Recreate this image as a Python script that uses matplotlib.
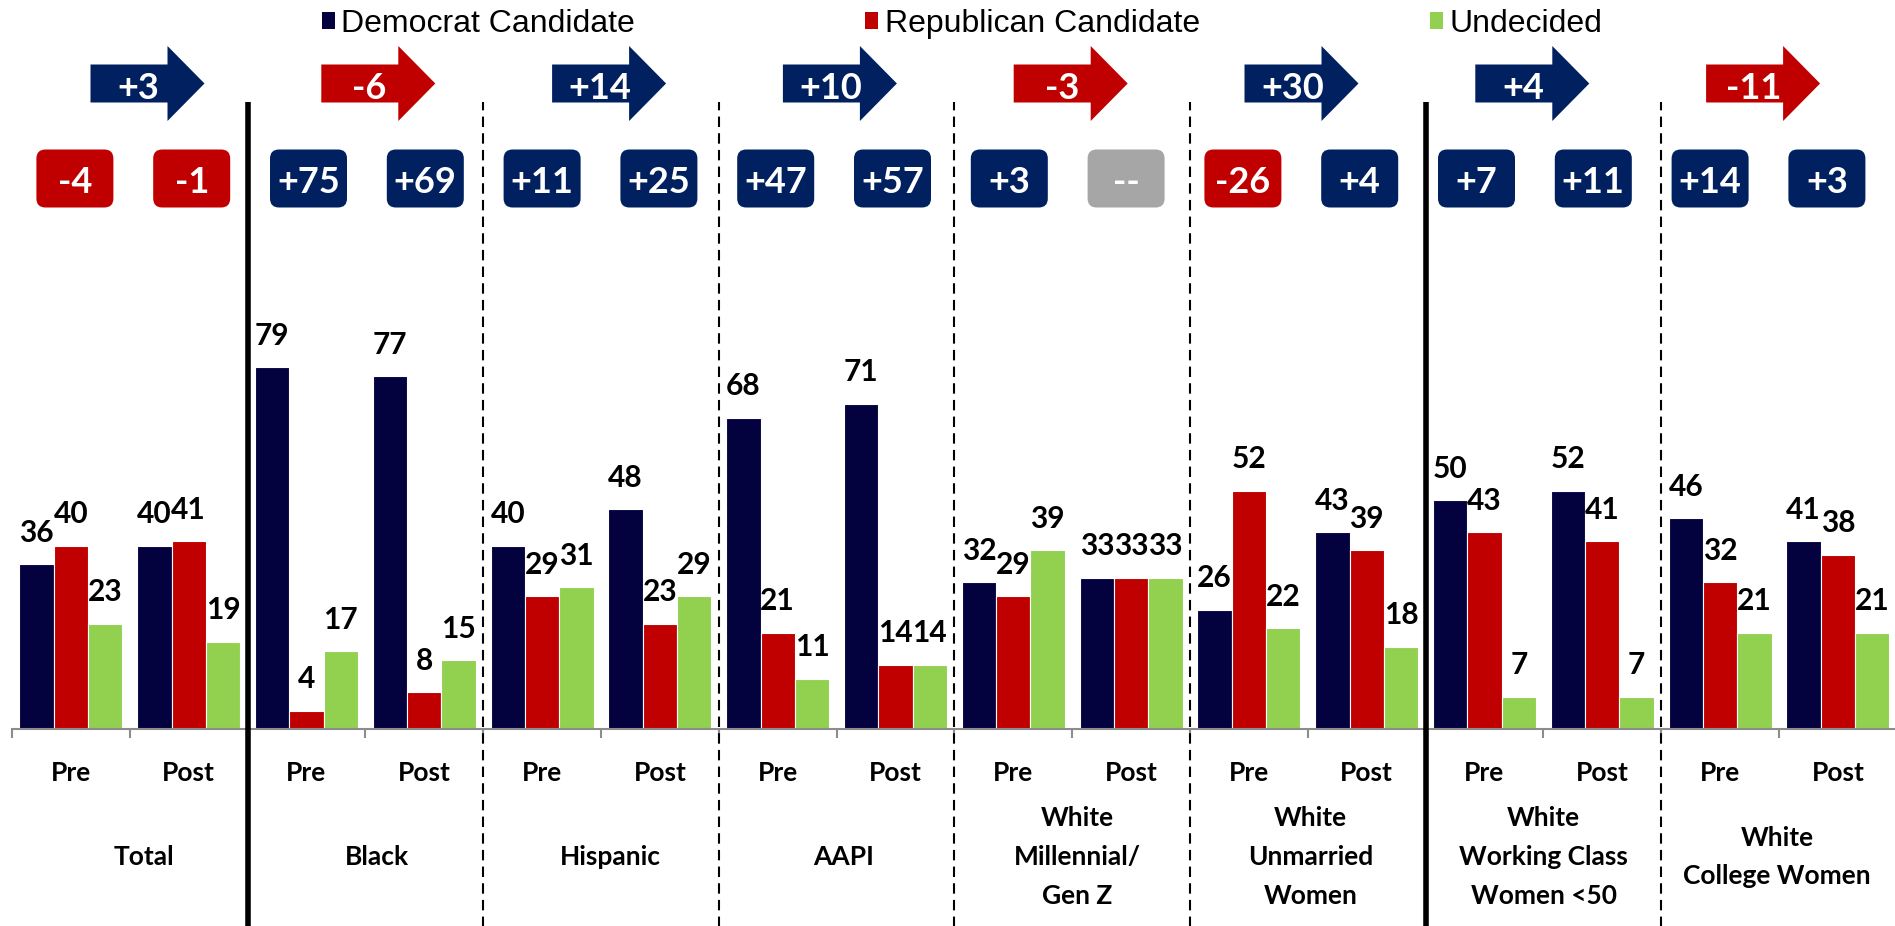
import matplotlib
matplotlib.use("Agg")
import matplotlib.pyplot as plt
from matplotlib.patches import Polygon, FancyBboxPatch, Patch
import numpy as np

# ---------------- data ----------------
categories = ["Total", "Black", "Hispanic", "AAPI",
              "White\nMillennial/\nGen Z", "White\nUnmarried\nWomen",
              "White\nWorking Class\nWomen <50", "White\nCollege Women"]
periods = ["Pre", "Post"]
series_names = ["Democrat Candidate", "Republican Candidate", "Undecided"]
dem_pre = [36, 79, 40, 68, 32, 26, 50, 46]
dem_post = [40, 77, 48, 71, 33, 43, 52, 41]
rep_pre = [40, 4, 29, 21, 29, 52, 43, 32]
rep_post = [41, 8, 23, 14, 33, 39, 41, 38]
und_pre = [23, 17, 31, 11, 39, 22, 7, 21]
und_post = [19, 15, 29, 14, 33, 18, 7, 21]
margin_pre = ["-4", "+75", "+11", "+47", "+3", "-26", "+7", "+14"]
margin_post = ["-1", "+69", "+25", "+57", "--", "+4", "+11", "+3"]
shift = ["+3", "-6", "+14", "+10", "-3", "+30", "+4", "-11"]

# ---------------- style ----------------
C_DEM = "#03023F"
C_REP = "#C00000"
C_UND = "#92D050"
C_NAVY = "#002060"
C_GREY = "#A6A6A6"
FONT = ["Lato", "DejaVu Sans"]
LEG_FONT = ["Liberation Sans", "DejaVu Sans"]

W, H = 1895, 926
PX_X = 117.8   # pixels per Pre/Post group
PX_Y = 4.58    # pixels per percentage point
AX_Y0 = 729    # pixel row of the baseline (from top)

fig = plt.figure(figsize=(W / 100, H / 100), dpi=100)
fig.patch.set_facecolor("white")
ax = fig.add_axes([12 / W, (H - AX_Y0) / H, 16 * PX_X / W, AX_Y0 / H])
ax.set_xlim(-0.5, 15.5)
ax.set_ylim(0, AX_Y0 / PX_Y)


def ypx(p):
    """pixel row (from top) -> data y"""
    return (AX_Y0 - p) / PX_Y


# ---------------- bars ----------------
bw = 34.3 / PX_X
series = [(dem_pre, dem_post, C_DEM), (rep_pre, rep_post, C_REP), (und_pre, und_post, C_UND)]
n = len(categories)
for s, (pre, post, col) in enumerate(series):
    xs, vals = [], []
    for i in range(n):
        xs += [2 * i + (s - 1) * bw, 2 * i + 1 + (s - 1) * bw]
        vals += [pre[i], post[i]]
    ax.bar(xs, vals, width=bw, color=col, edgecolor="white", linewidth=0.8, zorder=2)
    for x, v in zip(xs, vals):
        ax.annotate(str(v), (x, v), xytext=(0, 16.2), textcoords="offset points",
                    ha="center", va="baseline", fontsize=21.5, fontweight="bold",
                    family=FONT, color="black", zorder=5)

# ---------------- axis ----------------
for sp in ["top", "left", "right"]:
    ax.spines[sp].set_visible(False)
ax.spines["bottom"].set_color("#8C8C8C")
ax.spines["bottom"].set_linewidth(1.5)
ax.set_yticks([])
ax.set_xticks(np.arange(-0.5, 16, 1))
ax.set_xticklabels([])
ax.tick_params(axis="x", length=6.5, width=1.5, color="#8C8C8C", direction="out")
ax.set_facecolor("none")

# Pre / Post labels
for g in range(2 * n):
    ax.text(g, ypx(781), periods[g % 2], ha="center", va="baseline", fontsize=19,
            fontweight="bold", family=FONT, clip_on=False)

# category labels
for i, cat in enumerate(categories):
    off = (14 - 2.3 * i) / PX_X
    ax.text(2 * i + 0.5 + off, ypx(857), cat, ha="center", va="center", fontsize=19,
            fontweight="bold", family=FONT, linespacing=1.75, clip_on=False)

# separators
y_top, y_bot = ypx(102), ypx(930)
for xb in [1.5, 11.5]:
    ax.plot([xb, xb], [y_bot, y_top], color="black", lw=4, clip_on=False, zorder=4,
            solid_capstyle="butt")
for xb in [3.5, 5.5, 7.5, 9.5, 13.5]:
    ax.plot([xb, xb], [y_bot, y_top], color="black", lw=1.5, ls=(0, (5, 3)),
            clip_on=False, zorder=4)

# ---------------- margin boxes ----------------
bwid, bhei = 77 / PX_X, 58 / PX_Y
for i in range(n):
    for k, lab in enumerate([margin_pre[i], margin_post[i]]):
        j = 2 * i + k
        bx = j + (4 - 1.0 * j) / PX_X
        by = ypx(178.5)
        if lab.startswith("-") and lab != "--":
            col = C_REP
        elif lab == "--":
            col = C_GREY
        else:
            col = C_NAVY
        box = FancyBboxPatch((bx - bwid / 2, by - bhei / 2), bwid, bhei,
                             boxstyle=f"round,pad=0,rounding_size={9 / PX_X}",
                             mutation_aspect=PX_X / PX_Y, facecolor=col,
                             edgecolor="none", clip_on=False, zorder=3)
        ax.add_patch(box)
        ax.text(bx, ypx(192.7), lab, ha="center", va="baseline", fontsize=26,
                fontweight="bold", family=FONT, color="white", clip_on=False, zorder=4)

# ---------------- shift arrows ----------------
arrow_shape = [(-57, -19), (20, -19), (20, -37.5), (57, 0), (20, 37.5), (20, 19), (-57, 19)]
for i, lab in enumerate(shift):
    cx = 2 * i + 0.5 + (17.7 - 4.8 * i) / PX_X
    cy = ypx(83.5)
    col = C_REP if lab.startswith("-") else C_NAVY
    verts = [(cx + dx / PX_X, cy + dy / PX_Y) for dx, dy in arrow_shape]
    ax.add_patch(Polygon(verts, closed=True, facecolor=col, edgecolor="none",
                         clip_on=False, zorder=3))
    ax.text(cx - 9 / PX_X, ypx(99), lab, ha="center", va="baseline", fontsize=26,
            fontweight="bold", family=FONT, color="white", clip_on=False, zorder=4)

# ---------------- legend ----------------
handles = [Patch(facecolor=c, edgecolor="none") for c in (C_DEM, C_REP, C_UND)]
fig.legend(handles, series_names, loc="center", bbox_to_anchor=(962 / W, 1 - 24 / H),
           ncol=3, frameon=False, prop={"family": LEG_FONT, "size": 23},
           handlelength=0.41, handleheight=0.41, handletextpad=0.2, columnspacing=7.2,
           borderpad=0, borderaxespad=0)

fig.savefig("out.png", dpi=100, facecolor="white")
